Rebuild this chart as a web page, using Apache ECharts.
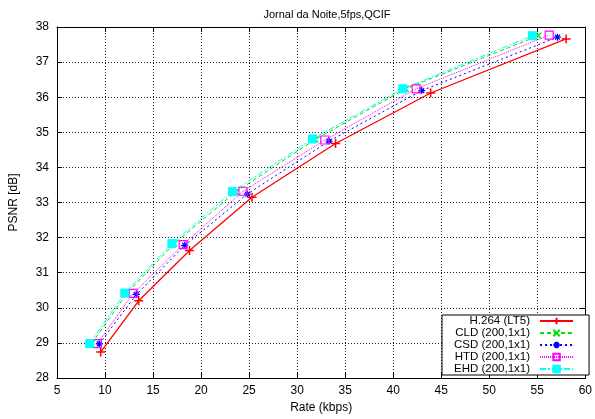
<!DOCTYPE html>
<html>
<head>
<meta charset="utf-8">
<script src="https://cdn.jsdelivr.net/npm/echarts@6/dist/echarts.min.js"></script>
<style>html,body{margin:0;padding:0;background:#fff}#c{width:595px;height:419px}</style>
</head>
<body>
<div id="c"></div>
<script>
var titleText = 'Jornal da Noite,5fps,QCIF';
var xName = 'Rate (kbps)';
var yName = 'PSNR [dB]';
var seriesNames = ['H.264 (LT5)', 'CLD (200,1x1)', 'CSD (200,1x1)', 'HTD (200,1x1)', 'EHD (200,1x1)'];

var rateH264 = [9.55, 13.5, 18.8, 25.3, 34.0, 43.9, 58.0];
var psnrH264 = [28.74, 30.20, 31.63, 33.15, 34.68, 36.12, 37.66];
var rateCLD = [8.6, 12.3, 17.2, 23.6, 31.9, 41.3, 55.1];
var psnrCLD = [28.98, 30.42, 31.83, 33.30, 34.80, 36.24, 37.75];
var rateCSD = [9.4, 13.27, 18.3, 24.81, 33.33, 42.97, 57.1];
var psnrCSD = [28.97, 30.38, 31.78, 33.24, 34.75, 36.19, 37.71];
var rateHTD = [9.2, 12.93, 18.13, 24.36, 32.88, 42.39, 56.24];
var psnrHTD = [28.98, 30.41, 31.80, 33.32, 34.78, 36.24, 37.77];
var rateEHD = [8.4, 12.06, 16.96, 23.27, 31.6, 41.0, 54.5];
var psnrEHD = [28.98, 30.42, 31.83, 33.31, 34.81, 36.24, 37.75];

function pairs(xs, ys){ return xs.map(function(x,i){ return [x, ys[i]]; }); }

var FONT = 'Liberation Sans';
var plusPath = 'path://M0,5L10,5M5,0L5,10';
var crossPath = 'path://M0,0L10,10M0,10L10,0';
var starPath = 'path://M0,5L10,5M5,0L5,10M1.5,1.5L8.5,8.5M1.5,8.5L8.5,1.5';

function mk(name, data, color, lineType, lineWidth, symbol, size, hollow, bw){
  return {
    name: name, type: 'line', data: data, xAxisIndex: 0, yAxisIndex: 0,
    symbol: symbol, symbolSize: size, showSymbol: true,
    lineStyle: {color: color, width: lineWidth, type: lineType},
    itemStyle: {color: hollow ? 'rgba(0,0,0,0)' : color, borderColor: color, borderWidth: bw},
    animation: false
  };
}

var chart = echarts.init(document.getElementById('c'), null, {renderer: 'canvas'});
var axisCommon = {
  axisLine: {show: true, lineStyle: {color: '#000', width: 1}},
  axisTick: {show: true, inside: true, length: 5, lineStyle: {color: '#000'}},
};
chart.setOption({
  animation: false,
  backgroundColor: '#fff',
  title: {text: titleText, left: 322, textAlign: 'center', top: 4,
    textStyle: {fontFamily: FONT, fontSize: 11, fontWeight: 'normal', color: '#000'}},
  grid: {left: 56, right: 7, top: 27, bottom: 39, containLabel: false},
  legend: {
    orient: 'vertical', left: 442, top: 315, align: 'right',
    data: seriesNames,
    itemWidth: 33, itemHeight: 8, itemGap: 0,
    padding: [0, 15, 0, 12],
    backgroundColor: '#fff', borderColor: '#000', borderWidth: 1, borderRadius: 0,
    textStyle: {fontFamily: FONT, fontSize: 11.5, lineHeight: 10, color: '#000', width: 76, align: 'right', padding: [0, 5, 0, 0]}
  },
  xAxis: [
    Object.assign({type: 'value', min: 5, max: 60, interval: 5, position: 'bottom',
      name: xName, nameLocation: 'middle', nameGap: 24,
      nameTextStyle: {fontFamily: FONT, fontSize: 12, color: '#000'},
      axisLabel: {fontFamily: FONT, fontSize: 12, color: '#000', margin: 7},
      splitLine: {show: true, lineStyle: {color: '#222', type: [1, 2], width: 1}}}, axisCommon),
    Object.assign({type: 'value', min: 5, max: 60, interval: 5, position: 'top',
      axisLabel: {show: false}, splitLine: {show: false}}, axisCommon)
  ],
  yAxis: [
    Object.assign({type: 'value', min: 28, max: 38, interval: 1, position: 'left',
      name: yName, nameLocation: 'middle', nameGap: 37,
      nameTextStyle: {fontFamily: FONT, fontSize: 12, color: '#000'},
      axisLabel: {fontFamily: FONT, fontSize: 12, color: '#000', margin: 8},
      splitLine: {show: true, lineStyle: {color: '#222', type: [1, 2], width: 1}}}, axisCommon),
    Object.assign({type: 'value', min: 28, max: 38, interval: 1, position: 'right',
      axisLabel: {show: false}, splitLine: {show: false}}, axisCommon)
  ],
  series: [
    mk(seriesNames[0], pairs(rateH264, psnrH264), '#ff0000', 'solid', 1.3, plusPath, 9, false, 1.5),
    mk(seriesNames[1], pairs(rateCLD, psnrCLD), '#00e000', [4, 3], 1, crossPath, 6, false, 1.2),
    mk(seriesNames[2], pairs(rateCSD, psnrCSD), '#0000ff', [2, 3], 1, starPath, 7, false, 1.2),
    mk(seriesNames[3], pairs(rateHTD, psnrHTD), '#ff00ff', [1, 1], 1, 'rect', 8, true, 1.2),
    mk(seriesNames[4], pairs(rateEHD, psnrEHD), '#00ffff', [6, 2, 2, 2], 1, 'rect', 8, false, 1)
  ]
});
</script>
</body>
</html>
